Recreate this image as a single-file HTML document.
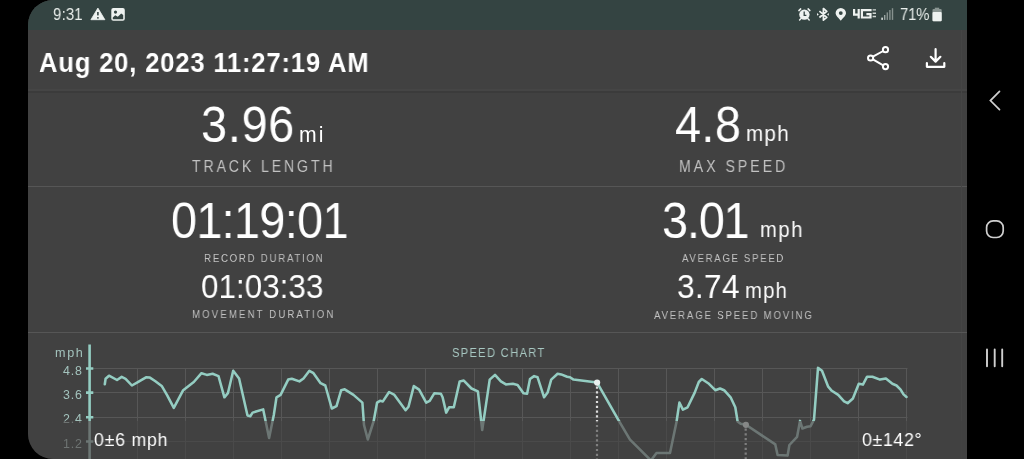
<!DOCTYPE html>
<html><head><meta charset="utf-8">
<style>
html,body{margin:0;padding:0;background:#000;width:1024px;height:459px;overflow:hidden;font-family:"Liberation Sans",sans-serif;}
#app{position:absolute;left:28px;top:0;width:939px;height:459px;background:#414141;border-radius:25px 0 0 25px;overflow:hidden;}
#status{position:absolute;left:0;top:0;width:939px;height:30px;background:#344442;}
.t{position:absolute;white-space:nowrap;line-height:1;will-change:transform;}
.abs{position:absolute;left:0;top:0;}
</style></head><body>
<div id="app">
<div id="status"></div>
<div class="abs" style="width:939px;height:2px;top:89px;background:#454545"></div>
<div class="abs" style="width:939px;height:2px;top:91px;background:#3b3b3b"></div>
<div class="abs" style="width:939px;height:1px;top:186px;background:#565656"></div>
<div class="abs" style="left:933px;width:1px;height:429px;top:30px;background:#454545"></div>
<div class="abs" style="width:939px;height:1px;top:332px;background:#565656"></div>
<svg class="abs" width="939" height="459" viewBox="0 0 939 459">
 <g stroke="#575757" stroke-width="1" fill="none"><line x1="109.5" y1="368" x2="109.5" y2="459" /><line x1="157.5" y1="368" x2="157.5" y2="459" /><line x1="205.5" y1="368" x2="205.5" y2="459" /><line x1="253.5" y1="368" x2="253.5" y2="459" /><line x1="301.5" y1="368" x2="301.5" y2="459" /><line x1="349.5" y1="368" x2="349.5" y2="459" /><line x1="397.5" y1="368" x2="397.5" y2="459" /><line x1="446.5" y1="368" x2="446.5" y2="459" /><line x1="494.5" y1="368" x2="494.5" y2="459" /><line x1="542.5" y1="368" x2="542.5" y2="459" /><line x1="590.5" y1="368" x2="590.5" y2="459" /><line x1="638.5" y1="368" x2="638.5" y2="459" /><line x1="686.5" y1="368" x2="686.5" y2="459" /><line x1="734.5" y1="368" x2="734.5" y2="459" /><line x1="782.5" y1="368" x2="782.5" y2="459" /><line x1="830.5" y1="368" x2="830.5" y2="459" /><line x1="878.5" y1="368" x2="878.5" y2="459" /><line x1="62" y1="368.5" x2="879.5" y2="368.5" /><line x1="62" y1="392.5" x2="879.5" y2="392.5" /><line x1="62" y1="417.5" x2="879.5" y2="417.5" /><line x1="62" y1="441.5" x2="879.5" y2="441.5" /></g>
 <g stroke="#94cdc2" stroke-width="2.6" fill="none">
  <line x1="61.599999999999994" y1="344.5" x2="61.599999999999994" y2="459"/><line x1="58" y1="368.5" x2="65.3" y2="368.5" /><line x1="58" y1="392.6" x2="65.3" y2="392.6" /><line x1="58" y1="417.2" x2="65.3" y2="417.2" /><line x1="58" y1="441.5" x2="65.3" y2="441.5" />
 </g>
 <path d="M76.8 384.3 L77.6 378.8 L81.0 375.7 L89.0 380.0 L93.7 376.9 L97.6 378.8 L103.9 385.5 L109.4 382.4 L118.0 377.3 L121.9 377.6 L127.4 381.2 L133.7 385.9 L139.2 395.3 L145.8 407.9 L155.2 390.2 L165.8 382.0 L173.5 373.2 L178.8 374.9 L184.6 373.8 L190.5 376.1 L196.4 397.3 L199.9 393.2 L205.2 370.8 L211.1 378.5 L219.5 415.5 L222.3 416.2 L224.6 412.6 L235.2 409.4 L241.1 437.9 L245.8 415.0 L248.5 397.3 L252.6 394.9 L260.2 379.6 L263.8 378.7 L271.4 381.4 L275.5 378.5 L281.4 370.8 L285.5 373.2 L292.6 383.2 L297.3 385.5 L303.8 408.5 L308.5 406.1 L313.2 390.2 L316.7 389.3 L325.5 394.9 L334.4 402.6 L336.0 425.0 L339.8 439.5 L345.7 421.0 L349.1 402.6 L352.0 400.8 L354.9 401.4 L361.1 392.0 L366.4 394.9 L377.6 410.2 L380.5 406.7 L385.8 386.1 L391.1 389.6 L398.2 402.6 L401.7 400.8 L406.4 393.2 L412.9 393.8 L414.6 397.3 L418.2 412.6 L421.1 407.3 L425.8 407.3 L431.7 381.4 L435.8 380.6 L443.5 388.5 L449.9 391.4 L454.2 430.0 L461.7 379.6 L467.0 374.9 L472.9 381.4 L477.9 384.4 L484.9 383.8 L489.6 384.9 L495.5 393.2 L499.1 393.8 L502.0 379.0 L506.1 376.1 L509.6 377.3 L516.1 397.3 L519.6 392.6 L523.2 379.6 L529.6 373.8 L533.2 374.4 L539.1 376.7 L542.0 377.3 L545.5 379.6 L569.1 382.6 L590.2 419.7 L602.0 439.7 L622.5 460.0 L624.0 459.0 L628.5 453.0 L642.0 453.0 L648.5 422.0 L651.4 402.6 L654.9 409.6 L659.6 407.3 L666.7 392.6 L670.8 382.0 L673.8 379.0 L680.2 383.2 L687.3 390.2 L692.0 388.5 L696.1 390.2 L702.6 397.3 L707.3 407.3 L709.6 421.5 L712.6 423.8 L717.9 424.8 L747.3 444.4 L749.6 455.0 L759.6 455.6 L761.4 445.0 L769.1 436.8 L772.0 420.9 L774.4 428.5 L779.1 426.8 L782.6 426.2 L786.0 419.7 L790.0 367.9 L794.0 370.8 L800.2 386.7 L803.8 390.8 L810.2 394.9 L816.1 401.4 L819.6 403.2 L824.9 398.5 L830.8 383.8 L834.9 384.6 L839.1 376.7 L844.4 376.7 L852.0 379.6 L857.9 378.5 L864.4 383.8 L868.5 385.5 L872.6 389.6 L875.5 394.4 L878.5 397.0" stroke="#94cdc2" stroke-width="2.55" fill="none" stroke-linejoin="round" stroke-linecap="round"/>
 <line x1="569" y1="386.5" x2="569" y2="459" stroke="#dcdcdc" stroke-width="2.2" stroke-dasharray="2.2 2.6"/>
 <line x1="717.7" y1="428.5" x2="717.7" y2="459" stroke="#dcdcdc" stroke-width="2.2" stroke-dasharray="2.2 2.6"/>
 <circle cx="569.1" cy="382.6" r="3.1" fill="#e8f0ee"/>
 <circle cx="717.9" cy="424.8" r="3.1" fill="#e8f0ee"/>
</svg>
<div class="t" style="left:34.56px;top:364.88px;font-size:12.4px;letter-spacing:0.88px;color:#a3c3bd;transform:scaleX(1);transform-origin:0 0;">4.8</div>
<div class="t" style="left:34.56px;top:389.18px;font-size:12.4px;letter-spacing:0.88px;color:#a3c3bd;transform:scaleX(1);transform-origin:0 0;">3.6</div>
<div class="t" style="left:34.56px;top:413.48px;font-size:12.4px;letter-spacing:0.88px;color:#a3c3bd;transform:scaleX(1);transform-origin:0 0;">2.4</div>
<div class="t" style="left:34.56px;top:437.78px;font-size:12.4px;letter-spacing:0.88px;color:#a3c3bd;transform:scaleX(1);transform-origin:0 0;">1.2</div>

<div class="abs" style="top:421px;width:939px;height:38px;background:rgba(65,65,65,0.6);backdrop-filter:saturate(0.45)"></div>
</div>
<div style="position:absolute;left:0;top:0;width:1024px;height:459px;">
<div class="t" style="left:52.51px;top:7.16px;font-size:16.7px;letter-spacing:0.11px;font-weight:normal;color:#e9eeeb;transform:scaleX(0.9);transform-origin:0 0;">9:31</div>
<div class="t" style="left:899.81px;top:6.2px;font-size:16.5px;letter-spacing:-0.196px;font-weight:normal;color:#e9eeeb;transform:scaleX(0.9);transform-origin:0 0;">71%</div>
<div class="t" style="left:39.15px;top:49.0px;font-size:27.5px;letter-spacing:0.896px;font-weight:bold;color:#ffffff;transform:scaleX(0.93);transform-origin:0 0;">Aug 20, 2023 11:27:19 AM</div>

<div class="t" style="left:201.34px;top:100.33px;font-size:49.2px;letter-spacing:0.824px;font-weight:normal;color:#ffffff;transform:scaleX(0.95);transform-origin:0 0;">3.96</div>
<div class="t" style="left:299.32px;top:124.0px;font-size:21.2px;letter-spacing:2.067px;font-weight:normal;color:#ffffff;transform:scaleX(1.0);transform-origin:0 0;">mi</div>
<div class="t" style="left:192.39px;top:158.9px;font-size:16.6px;letter-spacing:3.387px;font-weight:normal;color:#c2c2c2;transform:scaleX(0.85);transform-origin:0 0;">TRACK LENGTH</div>
<div class="t" style="left:675.3px;top:100.31px;font-size:49.2px;letter-spacing:0.433px;font-weight:normal;color:#ffffff;transform:scaleX(0.95);transform-origin:0 0;">4.8</div>
<div class="t" style="left:746.3px;top:122.94px;font-size:22.3px;letter-spacing:1.537px;font-weight:normal;color:#ffffff;transform:scaleX(0.92);transform-origin:0 0;">mph</div>
<div class="t" style="left:678.76px;top:158.9px;font-size:16.6px;letter-spacing:3.52px;font-weight:normal;color:#c2c2c2;transform:scaleX(0.85);transform-origin:0 0;">MAX SPEED</div>

<div class="t" style="left:170.75px;top:196.12px;font-size:49.2px;letter-spacing:-0.673px;font-weight:normal;color:#ffffff;transform:scaleX(0.95);transform-origin:0 0;">01:19:01</div>
<div class="t" style="left:203.71px;top:252.86px;font-size:11.8px;letter-spacing:2.124px;font-weight:normal;color:#c2c2c2;transform:scaleX(0.82);transform-origin:0 0;">RECORD DURATION</div>
<div class="t" style="left:201.25px;top:270.2px;font-size:33.0px;letter-spacing:0.049px;font-weight:normal;color:#ffffff;transform:scaleX(0.95);transform-origin:0 0;">01:03:33</div>
<div class="t" style="left:191.91px;top:309.46px;font-size:11.8px;letter-spacing:2.541px;font-weight:normal;color:#c2c2c2;transform:scaleX(0.82);transform-origin:0 0;">MOVEMENT DURATION</div>
<div class="t" style="left:661.74px;top:196.31px;font-size:49.2px;letter-spacing:-1.174px;font-weight:normal;color:#ffffff;transform:scaleX(0.95);transform-origin:0 0;">3.01</div>
<div class="t" style="left:759.92px;top:219.24px;font-size:21.8px;letter-spacing:1.92px;font-weight:normal;color:#ffffff;transform:scaleX(0.92);transform-origin:0 0;">mph</div>
<div class="t" style="left:681.59px;top:252.94px;font-size:11.8px;letter-spacing:2.013px;font-weight:normal;color:#c2c2c2;transform:scaleX(0.82);transform-origin:0 0;">AVERAGE SPEED</div>
<div class="t" style="left:677.39px;top:270.4px;font-size:33.4px;letter-spacing:0.246px;font-weight:normal;color:#ffffff;transform:scaleX(0.95);transform-origin:0 0;">3.74</div>
<div class="t" style="left:744.52px;top:280.46px;font-size:22.0px;letter-spacing:1.315px;font-weight:normal;color:#ffffff;transform:scaleX(0.92);transform-origin:0 0;">mph</div>
<div class="t" style="left:653.69px;top:309.95px;font-size:11.8px;letter-spacing:2.208px;font-weight:normal;color:#c2c2c2;transform:scaleX(0.82);transform-origin:0 0;">AVERAGE SPEED MOVING</div>

<div class="t" style="left:451.69px;top:345.9px;font-size:13.1px;letter-spacing:1.556px;font-weight:normal;color:#a8c8c2;transform:scaleX(0.85);transform-origin:0 0;">SPEED CHART</div>
<div class="t" style="left:54.78px;top:346.57px;font-size:12.6px;letter-spacing:1.667px;font-weight:normal;color:#a3c3bd;transform:scaleX(1);transform-origin:0 0;">mph</div>
<div class="t" style="left:94.12px;top:430.62px;font-size:18.6px;letter-spacing:0.858px;font-weight:normal;color:#ffffff;transform:scaleX(0.95);transform-origin:0 0;">0±6 mph</div>
<div class="t" style="left:861.51px;top:430.7px;font-size:18.8px;letter-spacing:0.633px;font-weight:normal;color:#ffffff;transform:scaleX(0.95);transform-origin:0 0;">0±142°</div>

</div>

<svg class="abs" width="1024" height="459" viewBox="0 0 1024 459" style="position:absolute;left:0;top:0">
 <!-- warning -->
 <path d="M97.9 8.1 L104.9 19.7 L90.9 19.7 Z" fill="#eef2f0" stroke="#eef2f0" stroke-width="0.8" stroke-linejoin="round"/>
 <rect x="97.1" y="12" width="1.6" height="3.4" fill="#344442"/>
 <rect x="97.1" y="17.1" width="1.6" height="1.5" fill="#344442"/>
 <!-- image -->
 <rect x="111.3" y="8.1" width="13.5" height="12.7" rx="2" fill="#eef2f0"/>
 <circle cx="115.5" cy="12.1" r="1.6" fill="#344442"/>
 <path d="M112.8 19.2 L112.8 17.6 L115.2 15.2 L117.8 16.8 L121.2 13.6 L123.2 15 L123.2 19.2 Z" fill="#344442"/>
 <!-- alarm -->
 <circle cx="804.4" cy="14.6" r="5.2" fill="#eef2f0"/>
 <path d="M798.9 10.6 L800.7 8.9 M809.9 10.6 L808.1 8.9 M799.6 20 L800.8 18.8 M809.2 20 L808 18.8" stroke="#eef2f0" stroke-width="1.5" stroke-linecap="round"/>
 <path d="M804.2 11.6 V15.3 H806.4" stroke="#344442" stroke-width="1.3" fill="none"/>
 <!-- bluetooth -->
 <path d="M819.4 11.2 L826.8 17.3 L823.4 20.2 V8.5 L826.8 11.4 L819.4 17.5" stroke="#eef2f0" stroke-width="1.7" fill="none" stroke-linejoin="round"/>
 <path d="M817 13 L818.8 14.4 L817 15.8 Z M828.8 13 L827 14.4 L828.8 15.8 Z" fill="#eef2f0"/>
 <!-- location -->
 <path d="M840.8 20.8 C838.8 18.2 835.6 15.8 835.6 13.1 A5.2 5.2 0 0 1 846 13.1 C846 15.8 842.8 18.2 840.8 20.8 Z" fill="#eef2f0"/>
 <circle cx="840.8" cy="13.1" r="1.9" fill="#344442"/>
 <!-- 4G -->
 <path d="M853 9 H855.2 V13.6 H857.6 V9 H859.8 V18.6 H857.6 V15.8 H853 Z" fill="#eef2f0"/>
 <path d="M860.8 9 H871.6 V11.2 H863 V16.4 H869.4 V15.2 H866.4 V13 H871.6 V18.6 H860.8 Z" fill="#eef2f0"/>
 <path d="M872.6 9.2 H876 V10.6 H872.6 Z M872.6 12.6 H876 V14 H872.6 Z M872.6 15.8 H876 V17.2 H872.6 Z" fill="#cfd6d3"/>
 <!-- signal -->
 <rect x="881.4" y="17.6" width="1.4" height="2.3" fill="#eef2f0"/>
 <rect x="884" y="15" width="1.4" height="4.9" fill="#9aa5a2"/>
 <rect x="886.6" y="12.4" width="1.4" height="7.5" fill="#86918e"/>
 <rect x="889.2" y="10" width="1.4" height="9.9" fill="#86918e"/>
 <rect x="891.8" y="8.2" width="1.4" height="11.7" fill="#86918e"/>
 <!-- battery -->
 <rect x="934.8" y="7.7" width="4.4" height="1.6" fill="#8a9592"/>
 <rect x="932.5" y="9" width="9.2" height="12.3" rx="1" fill="#8a9592"/>
 <rect x="932.5" y="12" width="9.2" height="9.3" rx="1" fill="#eef2f0"/>
 <!-- share -->
 <g stroke="#ffffff" stroke-width="2" fill="none">
  <circle cx="870.6" cy="58" r="2.6"/>
  <circle cx="885.5" cy="49.7" r="2.6"/>
  <circle cx="885.5" cy="66.6" r="2.6"/>
  <path d="M872.9 56.7 L883.2 51 M872.9 59.3 L883.2 65.3"/>
 </g>
 <!-- download -->
 <g stroke="#ffffff" stroke-width="2.2" fill="none" stroke-linecap="round" stroke-linejoin="round">
  <path d="M935.6 49.2 V61.4 M930.8 56.8 L935.6 61.6 L940.4 56.8"/>
  <path d="M926.9 63 V66.8 H944.3 V63"/>
 </g>
 <!-- nav -->
 <g stroke="#cfcfcf" stroke-width="1.7" fill="none" stroke-linecap="round">
  <path d="M999.5 91.4 L990.4 100.6 L999.5 109.6"/>
  <rect x="986.6" y="220.9" width="16.6" height="16.6" rx="6.5"/>
  <path d="M987 349.4 V366.2 M994.7 349.4 V366.2 M1002.2 349.4 V366.2" stroke-width="1.9"/>
 </g>
</svg>

</body></html>
